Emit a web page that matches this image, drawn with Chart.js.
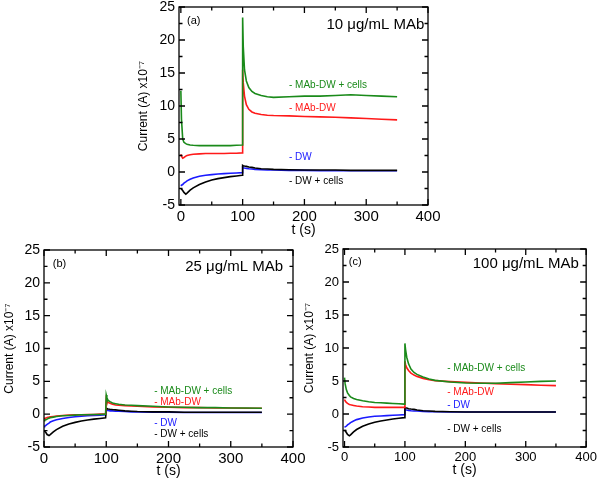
<!DOCTYPE html>
<html>
<head>
<meta charset="utf-8">
<script src="https://cdn.jsdelivr.net/npm/chart.js@4"></script>
<style>
  body { margin: 0; background: #fff; width: 600px; height: 480px; overflow: hidden; position: relative; }
  .panel { position: absolute; }
</style>
</head>
<body>
<div class="panel" style="left:125px; top:-10px; width:320px; height:250px;"><canvas id="chartA"></canvas></div>
<div class="panel" style="left:0px; top:235px; width:315px; height:245px;"><canvas id="chartB"></canvas></div>
<div class="panel" style="left:300px; top:235px; width:300px; height:245px;"><canvas id="chartC"></canvas></div>
<script>
// time axis (s), shared by all curves
const time = [0, 1, 3, 5, 8, 10, 15, 20, 30, 40, 50, 60, 70, 80, 90, 99, 100, 101, 103, 106, 110, 115, 120, 130, 140, 150, 175, 200, 225, 250, 275, 300, 325, 350];

// tick labels
const xTicks = [0, 100, 200, 300, 400];
const yTicks = [-5, 0, 5, 10, 15, 20, 25];

// (a) 10 ug/mL MAb, current x10^-7 A
const a_mabCells = [12.3, 8.0, 5.0, 4.5, 4.3, 4.2, 4.1, 4.05, 4.0, 4.0, 4.0, 4.0, 4.0, 4.0, 4.05, 4.1, 23.4, 19.0, 15.5, 13.8, 12.8, 12.2, 11.9, 11.6, 11.4, 11.3, 11.4, 11.5, 11.5, 11.6, 11.7, 11.6, 11.5, 11.4];
const a_mab = [2.7, 2.4, 2.1, 2.2, 2.4, 2.5, 2.6, 2.7, 2.75, 2.8, 2.8, 2.8, 2.8, 2.85, 2.85, 2.9, 15.5, 13.5, 11.5, 10.2, 9.5, 9.1, 8.9, 8.7, 8.6, 8.55, 8.5, 8.4, 8.35, 8.3, 8.2, 8.1, 8.0, 7.9];
const a_dw = [-2.1, -2.0, -1.9, -1.7, -1.5, -1.35, -1.1, -0.9, -0.65, -0.5, -0.4, -0.3, -0.25, -0.2, -0.15, -0.1, 0.7, 0.65, 0.6, 0.55, 0.5, 0.45, 0.4, 0.35, 0.3, 0.3, 0.25, 0.25, 0.2, 0.2, 0.2, 0.2, 0.2, 0.2];
const a_dwCells = [-2.6, -2.6, -2.8, -3.1, -3.35, -3.2, -2.75, -2.4, -1.9, -1.5, -1.2, -1.0, -0.85, -0.7, -0.6, -0.5, 1.0, 0.95, 0.9, 0.85, 0.75, 0.7, 0.6, 0.5, 0.45, 0.4, 0.35, 0.3, 0.3, 0.3, 0.25, 0.25, 0.25, 0.25];

// (b) 25 ug/mL MAb
const b_mabCells = [-1.0, -0.95, -0.85, -0.75, -0.6, -0.55, -0.45, -0.35, -0.25, -0.2, -0.15, -0.1, -0.1, -0.05, -0.05, 0.0, 2.9, 2.5, 2.1, 1.9, 1.7, 1.6, 1.5, 1.4, 1.35, 1.3, 1.2, 1.1, 1.05, 1.0, 1.0, 0.95, 0.95, 0.9];
const b_mab = [-0.7, -0.65, -0.6, -0.5, -0.45, -0.4, -0.35, -0.3, -0.2, -0.15, -0.1, -0.1, -0.05, -0.05, 0.0, 0.0, 2.3, 2.0, 1.8, 1.65, 1.5, 1.4, 1.35, 1.3, 1.25, 1.2, 1.1, 1.05, 1.0, 1.0, 0.95, 0.95, 0.9, 0.9];
const b_dw = [-1.9, -1.85, -1.7, -1.55, -1.35, -1.2, -1.0, -0.85, -0.65, -0.5, -0.4, -0.3, -0.25, -0.2, -0.15, -0.1, 0.6, 0.6, 0.55, 0.5, 0.5, 0.45, 0.45, 0.4, 0.35, 0.35, 0.3, 0.3, 0.25, 0.25, 0.25, 0.25, 0.25, 0.25];
const b_dwCells = [-2.5, -2.5, -2.8, -3.1, -3.25, -3.1, -2.7, -2.35, -1.85, -1.5, -1.25, -1.05, -0.9, -0.75, -0.65, -0.55, 0.9, 0.85, 0.8, 0.75, 0.7, 0.65, 0.6, 0.5, 0.45, 0.4, 0.35, 0.35, 0.3, 0.3, 0.3, 0.3, 0.3, 0.3];

// (c) 100 ug/mL MAb
const c_mabCells = [5.5, 4.6, 3.7, 3.2, 2.8, 2.6, 2.35, 2.2, 2.0, 1.85, 1.75, 1.7, 1.65, 1.6, 1.55, 1.5, 10.7, 9.8, 8.6, 7.6, 6.8, 6.3, 6.0, 5.6, 5.3, 5.1, 4.85, 4.7, 4.65, 4.65, 4.75, 4.85, 4.95, 5.0];
const c_mab = [2.2, 2.0, 1.75, 1.6, 1.45, 1.4, 1.3, 1.2, 1.1, 1.05, 1.0, 1.0, 1.0, 1.0, 1.0, 1.0, 8.0, 7.5, 7.0, 6.6, 6.2, 5.9, 5.7, 5.4, 5.2, 5.05, 4.9, 4.8, 4.7, 4.6, 4.5, 4.45, 4.35, 4.3];
const c_dw = [-2.0, -1.95, -1.85, -1.65, -1.45, -1.3, -1.05, -0.85, -0.6, -0.45, -0.35, -0.3, -0.25, -0.2, -0.15, -0.1, 0.7, 0.65, 0.6, 0.55, 0.5, 0.45, 0.45, 0.4, 0.35, 0.35, 0.3, 0.3, 0.3, 0.3, 0.3, 0.3, 0.3, 0.3];
const c_dwCells = [-2.5, -2.5, -2.8, -3.1, -3.3, -3.15, -2.7, -2.35, -1.85, -1.5, -1.25, -1.05, -0.9, -0.75, -0.65, -0.55, 1.0, 0.95, 0.9, 0.8, 0.75, 0.7, 0.6, 0.5, 0.45, 0.4, 0.35, 0.3, 0.3, 0.3, 0.3, 0.3, 0.3, 0.3];

const seriesNames = ['- MAb-DW + cells', '- MAb-DW', '- DW + cells', '- DW'];
const seriesColors = ['#1a8a1a', '#ff1a1a', '#000000', '#1a1aff'];

const FONT = '"Liberation Sans", Arial, Helvetica, sans-serif';

function points(ys) {
    return time.map((t, i) => ({ x: t, y: ys[i] }));
}

// frame, inward ticks on all four sides, and the text inside the plot
const framePlugin = {
    id: 'frame',
    afterDraw(chart) {
        const { ctx, chartArea: ca, scales } = chart;
        const opt = chart.options.plugins.frame;
        const xs = scales.x, ys = scales.y;
        ctx.save();
        ctx.strokeStyle = '#000';
        ctx.lineWidth = 1.3;
        ctx.strokeRect(ca.left, ca.top, ca.right - ca.left, ca.bottom - ca.top);

        ctx.beginPath();
        for (let i = 0; i < xTicks.length; i++) {
            const v = xTicks[i];
            const px = xs.getPixelForValue(v);
            ctx.moveTo(px, ca.bottom); ctx.lineTo(px, ca.bottom - 6);
            ctx.moveTo(px, ca.top); ctx.lineTo(px, ca.top + 6);
            if (i < xTicks.length - 1) {
                const mx = xs.getPixelForValue((v + xTicks[i + 1]) / 2);
                ctx.moveTo(mx, ca.bottom); ctx.lineTo(mx, ca.bottom - 3.5);
                ctx.moveTo(mx, ca.top); ctx.lineTo(mx, ca.top + 3.5);
            }
        }
        for (let i = 0; i < yTicks.length; i++) {
            const v = yTicks[i];
            const py = ys.getPixelForValue(v);
            ctx.moveTo(ca.left, py); ctx.lineTo(ca.left + 6, py);
            ctx.moveTo(ca.right, py); ctx.lineTo(ca.right - 6, py);
            if (i < yTicks.length - 1) {
                const my = ys.getPixelForValue((v + yTicks[i + 1]) / 2);
                ctx.moveTo(ca.left, my); ctx.lineTo(ca.left + 3.5, my);
                ctx.moveTo(ca.right, my); ctx.lineTo(ca.right - 3.5, my);
            }
        }
        ctx.stroke();

        ctx.textBaseline = 'middle';
        ctx.fillStyle = '#000';
        ctx.font = '11px ' + FONT;
        ctx.textAlign = 'left';
        ctx.fillText(opt.tag, xs.getPixelForValue(opt.tagAt[0]), ys.getPixelForValue(opt.tagAt[1]));

        ctx.font = '15px ' + FONT;
        ctx.textAlign = 'right';
        ctx.fillText(opt.title, xs.getPixelForValue(opt.titleAt[0]), ys.getPixelForValue(opt.titleAt[1]));

        ctx.font = '10px ' + FONT;
        ctx.textAlign = 'left';
        opt.labelY.forEach((y, i) => {
            ctx.fillStyle = seriesColors[i];
            ctx.fillText(seriesNames[i], xs.getPixelForValue(opt.labelX), ys.getPixelForValue(y));
        });
        ctx.restore();
    }
};

function makeChart(id, curves, cfg) {
    const ctx = document.getElementById(id).getContext('2d');
    return new Chart(ctx, {
        type: 'line',
        data: {
            datasets: curves.map((ys, i) => ({
                data: points(ys),
                borderColor: seriesColors[i],
                borderWidth: 1.6,
                pointRadius: 0,
                tension: 0,
                fill: false
            }))
        },
        options: {
            responsive: true,
            maintainAspectRatio: false,
            animation: false,
            layout: { padding: { top: cfg.padTop, right: cfg.padRight, left: cfg.padLeft, bottom: 0 } },
            plugins: {
                legend: { display: false },
                tooltip: { enabled: false },
                frame: cfg.text
            },
            scales: {
                x: {
                    type: 'linear',
                    min: cfg.xMin,
                    max: 400,
                    grid: { display: false, drawTicks: false },
                    border: { display: false },
                    ticks: { padding: 3, color: '#000', font: { family: FONT, size: cfg.xTickSize }, maxRotation: 0, autoSkip: false },
                    afterBuildTicks: s => { s.ticks = xTicks.map(v => ({ value: v })); },
                    afterFit: s => { s.height = cfg.xHeight; },
                    title: { display: true, text: 't (s)', color: '#000', padding: { top: 0, bottom: cfg.titlePad }, font: { family: FONT, size: 14 } }
                },
                y: {
                    min: -5,
                    max: 25,
                    grid: { display: false, drawTicks: false },
                    border: { display: false },
                    ticks: { padding: 4, color: '#000', font: { family: FONT, size: cfg.yTickSize }, autoSkip: false },
                    afterBuildTicks: s => { s.ticks = yTicks.map(v => ({ value: v })); },
                    afterFit: s => { s.width = cfg.yWidth; },
                    title: { display: true, text: 'Current (A) x10⁻⁷', color: '#000', padding: 2, font: { family: FONT, size: 12 } }
                }
            }
        },
        plugins: [framePlugin]
    });
}

makeChart('chartA', [a_mabCells, a_mab, a_dwCells, a_dw], {
    padTop: 17, padRight: 17, padLeft: 9, yWidth: 45, xHeight: 35, xMin: -3, xTickSize: 15, yTickSize: 14, titlePad: 1,
    text: { tag: '(a)', tagAt: [10, 22.9], title: '10 μg/mL MAb', titleAt: [394, 22.3], labelX: 175, labelY: [13.2, 9.7, -1.4, 2.3] }
});

makeChart('chartB', [b_mabCells, b_mab, b_dwCells, b_dw], {
    padTop: 15, padRight: 22, padLeft: 0, yWidth: 44, xHeight: 33, xMin: 0, xTickSize: 15, yTickSize: 14, titlePad: 0,
    text: { tag: '(b)', tagAt: [14, 22.8], title: '25 μg/mL MAb', titleAt: [384, 22.4], labelX: 177, labelY: [3.5, 1.8, -3.0, -1.4] }
});

makeChart('chartC', [c_mabCells, c_mab, c_dwCells, c_dw], {
    padTop: 14, padRight: 10, padLeft: 0, yWidth: 43, xHeight: 33, xMin: -2.5, xTickSize: 13, yTickSize: 13, titlePad: 1,
    text: { tag: '(c)', tagAt: [7, 23.1], title: '100 μg/mL MAb', titleAt: [388, 22.7], labelX: 170, labelY: [7.0, 3.3, -2.3, 1.4] }
});
</script>
</body>
</html>
